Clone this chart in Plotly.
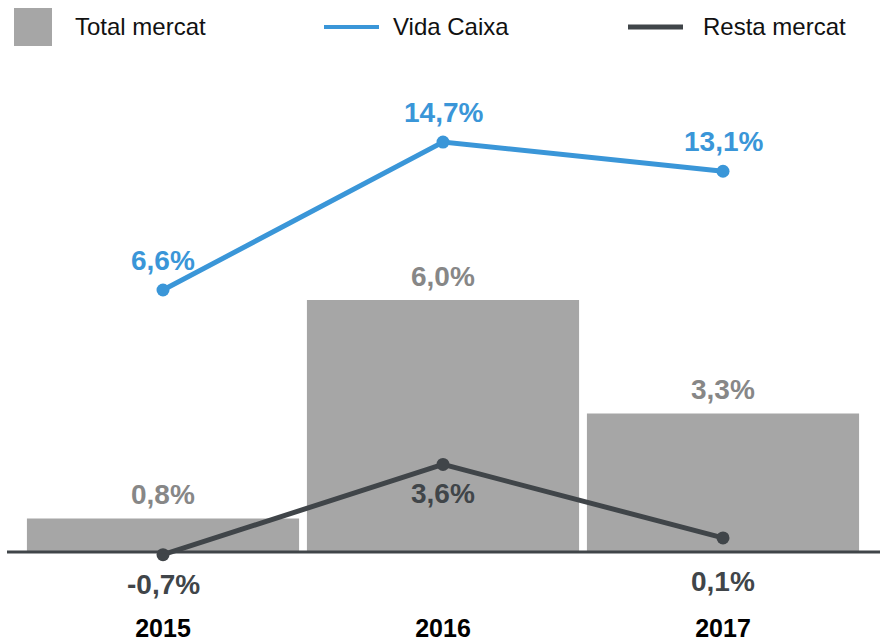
import plotly.graph_objects as go

# ---- data ----
years = ["2015", "2016", "2017"]
total_mercat = [0.8, 6.0, 3.3]
vida_caixa = [6.6, 14.7, 13.1]
resta_mercat = [-0.7, 3.6, 0.1]

series_names = ["Total mercat", "Vida Caixa", "Resta mercat"]

# ---- style ----
GRAY = "#a6a6a6"
GRAY_TXT = "#878787"
BLUE = "#3a96d8"
DARK = "#404549"
FONT = "Liberation Sans, Arial, sans-serif"

W, H = 880, 642
ML, MR, MT, MB = 23, 17, 50, 31
PW = W - ML - MR
PH = H - MT - MB


def px_x(px):
    return (px - ML) / PW


def px_y(py):
    return (H - MB - py) / PH


def yrange(zero_px, ppu):
    return [-(H - MB - zero_px) / ppu, (zero_px - MT) / ppu]


def pct(v):
    return f"{v:.1f}%".replace(".", ",")


fig = go.Figure()

fig.add_trace(go.Bar(
    x=years, y=total_mercat, name=series_names[0],
    marker=dict(color=GRAY, line=dict(width=0)),
    showlegend=False, yaxis="y",
))

fig.add_trace(go.Scatter(
    x=years, y=vida_caixa, name=series_names[1], yaxis="y2",
    mode="lines+markers",
    line=dict(color=BLUE, width=5),
    marker=dict(color=BLUE, size=13),
    cliponaxis=False, showlegend=False,
))

fig.add_trace(go.Scatter(
    x=years, y=resta_mercat, name=series_names[2], yaxis="y3",
    mode="lines+markers",
    line=dict(color=DARK, width=5),
    marker=dict(color=DARK, size=13),
    cliponaxis=False, showlegend=False,
))

shapes = [
    # baseline
    dict(type="line", xref="paper", yref="y", x0=px_x(7), x1=px_x(880), y0=0, y1=0,
         line=dict(color=DARK, width=3), layer="above"),
    # legend markers
    dict(type="rect", xref="paper", yref="paper", x0=px_x(14), x1=px_x(52),
         y0=px_y(46), y1=px_y(8), fillcolor=GRAY, line=dict(width=0)),
    dict(type="line", xref="paper", yref="paper", x0=px_x(324), x1=px_x(379),
         y0=px_y(27), y1=px_y(27), line=dict(color=BLUE, width=4)),
    dict(type="line", xref="paper", yref="paper", x0=px_x(628), x1=px_x(683),
         y0=px_y(27), y1=px_y(27), line=dict(color=DARK, width=5)),
]

legend_x = [73, 391, 701]
annotations = [
    dict(text=name, xref="paper", yref="paper", x=px_x(lx), y=px_y(27),
         xanchor="left", yanchor="middle", showarrow=False,
         font=dict(size=24, color="#111111", family=FONT))
    for name, lx in zip(series_names, legend_x)
]

label_font = dict(size=28, family=FONT, weight="bold")

# value labels, placed at each data point through the axes (category index)
for i, v in enumerate(total_mercat):
    annotations.append(dict(x=i, y=v, xref="x", yref="y", text=pct(v), showarrow=False,
                            xanchor="center", yanchor="bottom", yshift=6,
                            font=dict(label_font, color=GRAY_TXT)))
for i, v in enumerate(vida_caixa):
    annotations.append(dict(x=i, y=v, xref="x", yref="y2", text=pct(v), showarrow=False,
                            xanchor="center", yanchor="bottom", yshift=12,
                            font=dict(label_font, color=BLUE)))
resta_shift = [-12, -12, -26]
for i, (v, s) in enumerate(zip(resta_mercat, resta_shift)):
    annotations.append(dict(x=i, y=v, xref="x", yref="y3", text=pct(v), showarrow=False,
                            xanchor="center", yanchor="top", yshift=s,
                            font=dict(label_font, color=DARK)))

fig.update_layout(
    width=W, height=H,
    margin=dict(l=ML, r=MR, t=MT, b=MB, pad=0),
    paper_bgcolor="white", plot_bgcolor="white",
    separators=",.",
    bargap=0.028,
    font=dict(family=FONT),
    shapes=shapes, annotations=annotations,
    xaxis=dict(type="category", range=[-0.5, 2.5], showgrid=False, zeroline=False,
               showline=False, ticks="", automargin=False,
               tickfont=dict(size=25, color="#000000", family=FONT, weight="bold")),
    yaxis=dict(range=yrange(552, 42), visible=False, fixedrange=True),
    yaxis2=dict(range=yrange(410.6, 18.27), visible=False, overlaying="y"),
    yaxis3=dict(range=yrange(540, 21), visible=False, overlaying="y"),
)

fig.write_html("out.html", config={"displayModeBar": False},
               post_script="document.body.style.margin='0';document.body.style.overflow='hidden';")
